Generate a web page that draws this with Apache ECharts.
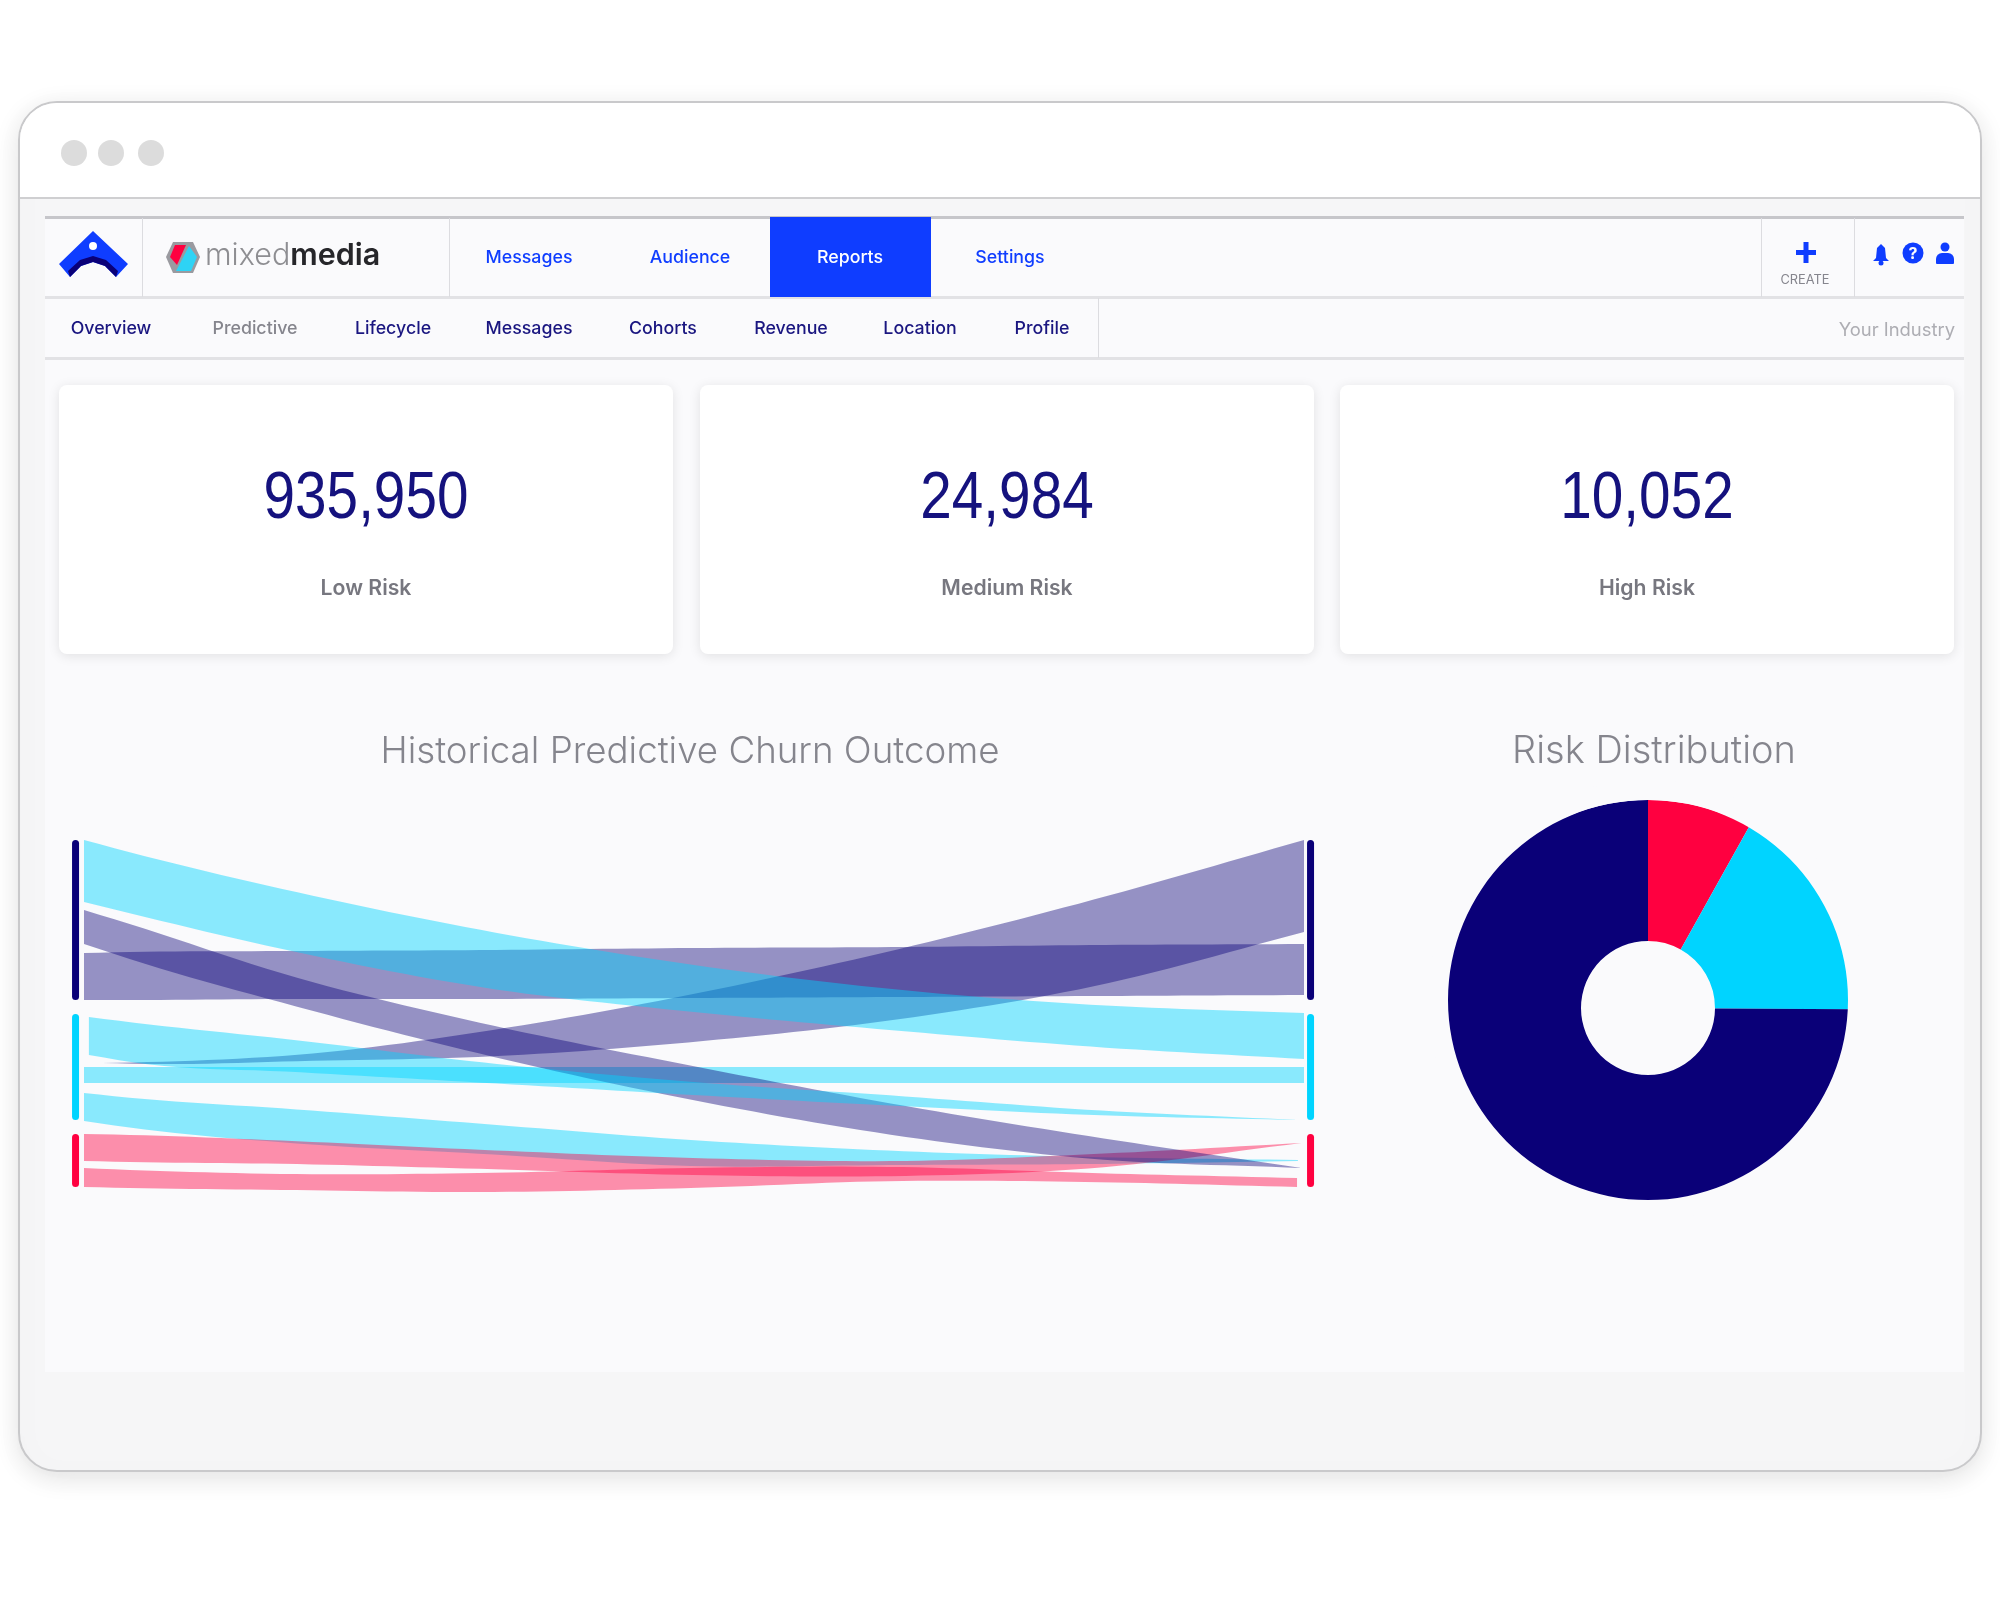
<!DOCTYPE html>
<html>
<head>
<meta charset="utf-8">
<title>Predictive report</title>
<script src="https://cdn.jsdelivr.net/npm/echarts@6/dist/echarts.min.js"></script>
<style>
html,body{margin:0;padding:0;background:#fff;}
#main{width:2000px;height:1600px;}
</style>
</head>
<body>
<div id="main"></div>
<script>
// top level data
var navItems = ['Messages', 'Audience', 'Reports', 'Settings'];
var subNavItems = ['Overview', 'Predictive', 'Lifecycle', 'Messages', 'Cohorts', 'Revenue', 'Location', 'Profile'];
var kpiValues = ['935,950', '24,984', '10,052'];
var kpiLabels = ['Low Risk', 'Medium Risk', 'High Risk'];

var riskNames = ['High Risk', 'Medium Risk', 'Low Risk'];
var riskShares = [8.1, 17.0, 74.9];

// flow chart: stages run 0..1 left to right, bands are read as upper/lower edge at each stage
var flowStages = [0, 0.04, 0.17, 0.33, 0.5, 0.67, 0.83, 1];
var nodeNames = ['Low Risk', 'Medium Risk', 'High Risk'];
var nodeFrom = [0, 174, 294];
var nodeTo = [160, 280, 347];

var lowToMediumUpper = [0, 13, 51, 91, 125, 150, 165, 173];
var lowToMediumLower = [62, 74, 111, 148, 172, 191, 207, 219];
var lowToLowUpper = [113, 112, 111, 110, 108, 107, 105, 104];
var lowToLowLower = [160, 160, 159, 159, 158, 157, 156, 155];
var lowToHighUpper = [70, 85, 136, 184, 226, 265, 297, 328];
var lowToHighLower = [104, 120, 165, 215, 260, 296, 319, 328];
var mediumToLowUpper = [223, 222, 214, 189, 152, 107, 58, 0];
var mediumToLowLower = [223, 224, 221, 216, 201, 178, 145, 92];
var mediumToMediumAUpper = [177, 183, 200, 223, 242, 256, 270, 280];
var mediumToMediumALower = [215, 223, 232, 243, 255, 266, 275, 280];
var mediumToMediumBUpper = [227, 227, 227, 227, 227, 227, 227, 227];
var mediumToMediumBLower = [243, 243, 243, 243, 243, 243, 243, 243];
var mediumToHighUpper = [253, 258, 269, 284, 300, 311, 317, 320];
var mediumToHighLower = [281, 288, 303, 314, 326, 325, 324, 321];
var highToMediumUpper = [294, 295, 301, 310, 318, 321, 314, 303];
var highToMediumLower = [321, 322, 324, 329, 335, 336, 328, 303];
var highToHighUpper = [328, 330, 334, 333, 328, 327, 333, 338];
var highToHighLower = [347, 348, 350, 352, 348, 341, 342, 347];

var NAVY = '#0a0078', CYAN = '#00d4ff', RED = '#ff0040', BLUE = '#0f3dff';
var PANEL = '#fafafc';

// the draw order matters, the overlaps take their colour from it
var bands = [
    {name: 'Medium to Medium flat', upper: mediumToMediumBUpper, lower: mediumToMediumBLower, color: CYAN, opacity: 0.45, from: 0, to: 1},
    {name: 'Low to Low', upper: lowToLowUpper, lower: lowToLowLower, color: NAVY, opacity: 0.42, from: 0, to: 1},
    {name: 'Medium to Low', upper: mediumToLowUpper, lower: mediumToLowLower, color: NAVY, opacity: 0.42, from: 0.015, to: 1},
    {name: 'Medium to High', upper: mediumToHighUpper, lower: mediumToHighLower, color: CYAN, opacity: 0.45, from: 0, to: 0.995},
    {name: 'High to Medium', upper: highToMediumUpper, lower: highToMediumLower, color: RED, opacity: 0.43, from: 0, to: 0.998},
    {name: 'High to High', upper: highToHighUpper, lower: highToHighLower, color: RED, opacity: 0.43, from: 0, to: 0.9943},
    {name: 'Low to High', upper: lowToHighUpper, lower: lowToHighLower, color: NAVY, opacity: 0.42, from: 0, to: 0.998},
    {name: 'Medium to Medium', upper: mediumToMediumAUpper, lower: mediumToMediumALower, color: CYAN, opacity: 0.45, from: 0.004, to: 0.995},
    {name: 'Low to Medium', upper: lowToMediumUpper, lower: lowToMediumLower, color: CYAN, opacity: 0.45, from: 0, to: 1}
];
var nodeColors = [NAVY, CYAN, RED];

// smooth curve through the readings
function edgeValue(ys, t) {
    var xs = flowStages, n = xs.length, i = 0;
    while (i < n - 2 && t > xs[i + 1]) i++;
    var slope = function (k) {
        if (k === 0) return (ys[1] - ys[0]) / (xs[1] - xs[0]);
        if (k === n - 1) return (ys[k] - ys[k - 1]) / (xs[k] - xs[k - 1]);
        var h0 = xs[k] - xs[k - 1], h1 = xs[k + 1] - xs[k];
        var d0 = (ys[k] - ys[k - 1]) / h0, d1 = (ys[k + 1] - ys[k]) / h1;
        return (d0 * h1 + d1 * h0) / (h0 + h1);
    };
    var h = xs[i + 1] - xs[i], s = (t - xs[i]) / h;
    var s2 = s * s, s3 = s2 * s;
    return (2 * s3 - 3 * s2 + 1) * ys[i] + (s3 - 2 * s2 + s) * h * slope(i) +
        (-2 * s3 + 3 * s2) * ys[i + 1] + (s3 - s2) * h * slope(i + 1);
}

function renderBand(params, api) {
    var b = bands[params.dataIndex];
    var pts = [], k, t, STEPS = 80;
    for (k = 0; k <= STEPS; k++) {
        t = k / STEPS;
        pts.push(api.coord([b.from + (b.to - b.from) * t, edgeValue(b.upper, t)]));
    }
    for (k = STEPS; k >= 0; k--) {
        t = k / STEPS;
        pts.push(api.coord([b.from + (b.to - b.from) * t, edgeValue(b.lower, t)]));
    }
    return {type: 'polygon', shape: {points: pts}, style: {fill: b.color, opacity: b.opacity}};
}

function renderNode(params, api) {
    var i = params.dataIndex;
    var out = [];
    [-0.0098, 1.0025].forEach(function (stage) {
        var p0 = api.coord([stage, nodeFrom[i]]);
        var p1 = api.coord([stage, nodeTo[i]]);
        out.push({
            type: 'rect',
            shape: {x: p0[0], y: p0[1], width: 7, height: p1[1] - p0[1], r: 3.5},
            style: {fill: nodeColors[i]}
        });
    });
    return {type: 'group', children: out};
}

// ---- page chrome ----
var g = [];
function rect(x, y, w, h, fill, extra) {
    var el = {type: 'rect', silent: true, shape: {x: x, y: y, width: w, height: h, r: (extra && extra.r) || 0}, style: {fill: fill}};
    if (extra && extra.style) for (var k in extra.style) el.style[k] = extra.style[k];
    g.push(el);
}
function text(str, x, y, font, color, align) {
    g.push({type: 'text', silent: true, style: {text: str, x: x, y: y, font: font, fill: color, textAlign: align || 'center', textVerticalAlign: 'middle', verticalAlign: 'middle'}});
}
function poly(points, fill) {
    g.push({type: 'polygon', silent: true, shape: {points: points}, style: {fill: fill}});
}
function dot(cx, cy, r, fill) {
    g.push({type: 'circle', silent: true, shape: {cx: cx, cy: cy, r: r}, style: {fill: fill}});
}

// browser frame
rect(19, 102, 1962, 1369, '#f6f6f7', {r: 38, style: {stroke: '#c9c9cb', lineWidth: 2, shadowBlur: 26, shadowColor: 'rgba(0,0,0,0.12)', shadowOffsetY: 6}});
rect(20, 103, 1960, 95, '#ffffff', {r: [37, 37, 0, 0]});
rect(20, 197, 1960, 2, '#cfcfd1');
[74, 111, 151].forEach(function (x) { dot(x, 153, 13, '#dcdcdc'); });

// app panel
rect(45, 217, 1919, 1155, PANEL);
rect(45, 216, 1919, 3, '#c6c6ca');
rect(45, 296, 1919, 3, '#e2e2e5');
rect(45, 357, 1919, 3, '#e2e2e5');
[142, 449, 1761, 1854].forEach(function (x) { rect(x, 218, 1, 79, '#dcdce0'); });
rect(1098, 298, 1, 60, '#dcdce0');
rect(770, 217, 161, 80, BLUE);

// logos
poly([[93, 231], [128, 264], [116, 277], [105, 266], [93, 262], [81, 266], [70, 277], [59, 264]], BLUE);
poly([[68, 271], [80, 260], [93, 256], [106, 260], [118, 271], [116, 277], [105, 266], [93, 262], [81, 266], [70, 277]], NAVY);
dot(93, 246, 4, '#ffffff');
poly([[173, 242], [193, 242], [200, 257], [193, 273], [173, 273], [166, 257]], '#9a9aa0');
poly([[175, 245], [186, 245], [177, 265], [170, 257]], RED);
poly([[189, 246], [197, 257], [191, 271], [176, 271]], '#2ed3f5');
g.push({type: 'text', silent: true, style: {
    text: '{a|mixed}{b|media}', x: 205, y: 256, textVerticalAlign: 'middle', verticalAlign: 'middle', textAlign: 'left',
    rich: {
        a: {font: '300 30.5px Inter', fill: '#8e8e92', color: '#8e8e92'},
        b: {font: '600 30.5px Inter', fill: '#26262a', color: '#26262a'}
    }
}});

// top nav
var navCenters = [529, 690, 850, 1010];
navItems.forEach(function (s, i) {
    text(s, navCenters[i], 258, '500 17.8px Inter', s === 'Reports' ? '#ffffff' : BLUE);
});
var subCenters = [111, 255, 393, 529, 663, 791, 920, 1042];
subNavItems.forEach(function (s, i) {
    text(s, subCenters[i], 329, '500 17.8px Inter', s === 'Predictive' ? '#85858d' : '#1a1680');
});
text('Your Industry', 1955, 330, '400 18.4px Inter', '#adadb3', 'right');
text('CREATE', 1805, 280, '400 12.8px Inter', '#85858d');

// icons
rect(1796, 250, 20, 5, BLUE);
rect(1803.5, 242, 5, 21, BLUE);
poly([[1881, 244], [1885, 248], [1886, 258], [1889, 261], [1873, 261], [1876, 258], [1877, 248]], BLUE);
dot(1881, 263, 2.5, BLUE);
dot(1913, 253, 10.5, BLUE);
text('?', 1913, 254, '700 16px Inter', PANEL);
dot(1945, 247, 4.5, BLUE);
rect(1936, 253, 18, 11, BLUE, {r: [6, 6, 1, 1]});

// kpi cards
var cardLefts = [59, 700, 1340];
kpiValues.forEach(function (v, i) {
    rect(cardLefts[i], 385, 614, 269, '#ffffff', {r: 8, style: {shadowBlur: 12, shadowColor: 'rgba(0,0,0,0.10)', shadowOffsetY: 2}});
    var cx = cardLefts[i] + 307;
    // no narrow face installed, squeeze the regular one
    g.push({type: 'text', silent: true, x: cx, y: 500, scaleX: 0.846, style: {
        text: v, x: 0, y: 0, font: '400 67px "Liberation Sans"', fill: '#15127e',
        textAlign: 'center', textVerticalAlign: 'middle', verticalAlign: 'middle'
    }});
    text(kpiLabels[i], cx, 589, '600 21.2px Inter', '#77777f');
});

// the ring is not concentric in the picture: the outer circle sits a little above the hole, so trim it
g.push({type: 'ring', silent: true, z: 10, shape: {cx: 1648, cy: 1000, r: 220, r0: 200}, style: {fill: PANEL}});

var option = {
    animation: false,
    backgroundColor: '#ffffff',
    title: [
        {text: 'Historical Predictive Churn Outcome', left: 685, top: 728, textAlign: 'center',
            textStyle: {fontFamily: 'Inter', fontSize: 36.7, fontWeight: 300, color: '#85858d'}},
        {text: 'Risk Distribution', left: 1649, top: 728, textAlign: 'center',
            textStyle: {fontFamily: 'Inter', fontSize: 38, fontWeight: 300, color: '#85858d'}}
    ],
    graphic: {elements: g},
    grid: {left: 84, top: 840, width: 1220, height: 360},
    xAxis: {type: 'value', min: 0, max: 1, show: false},
    yAxis: {type: 'value', min: 0, max: 360, inverse: true, show: false},
    series: [
        {
            type: 'custom',
            name: 'Churn flows',
            coordinateSystem: 'cartesian2d',
            clip: false,
            silent: true,
            renderItem: renderBand,
            data: bands.map(function (b) { return [0, b.upper[0]]; })
        },
        {
            type: 'custom',
            name: 'Risk groups',
            coordinateSystem: 'cartesian2d',
            clip: false,
            silent: true,
            renderItem: renderNode,
            data: nodeNames.map(function (n, i) { return [0, nodeFrom[i]]; })
        },
        {
            type: 'pie',
            name: 'Risk Distribution',
            center: [1648, 1008],
            radius: [67, 208],
            startAngle: 90,
            clockwise: true,
            silent: true,
            label: {show: false},
            labelLine: {show: false},
            data: riskNames.map(function (n, i) {
                return {name: n, value: riskShares[i], itemStyle: {color: [RED, CYAN, NAVY][i]}};
            })
        }
    ]
};

var myChart = echarts.init(document.getElementById('main'));
myChart.setOption(option);
</script>
</body>
</html>
